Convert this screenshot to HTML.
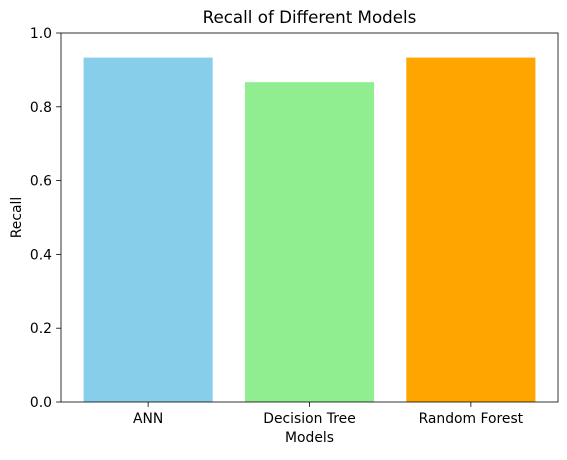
<!DOCTYPE html>
<html><head><meta charset="utf-8"><style>
body{margin:0;background:#fff;font-family:"Liberation Sans","DejaVu Sans",sans-serif}
svg text{font-family:"DejaVu Sans","Liberation Sans",sans-serif}
</style></head><body>
<svg id="chart" width="567" height="455" xmlns="http://www.w3.org/2000/svg">
<text x="309.5" y="23" text-anchor="middle" font-size="16.7">Recall of Different Models</text>
<g id="bars"></g>
<g id="axes"></g>
<text x="309.5" y="442" text-anchor="middle" font-size="13.9">Models</text>
<text transform="translate(21,217.5) rotate(-90)" text-anchor="middle" font-size="13.9">Recall</text>
</svg>
<script>
const categories = ["ANN", "Decision Tree", "Random Forest"];
const recallValues = [0.9333, 0.8667, 0.9333];
const barColors = ["#87ceeb", "#90ee90", "#ffa500"];
const yTicks = [0.0, 0.2, 0.4, 0.6, 0.8, 1.0];

const L=61,R=558,T=33,B=402;
const xmin=-0.54,xmax=2.54;
const xs=v=>L+(v-xmin)/(xmax-xmin)*(R-L);
const ys=v=>B-(v-0)/(1-0)*(B-T);
const NS="http://www.w3.org/2000/svg";
const bars=document.getElementById('bars'), axes=document.getElementById('axes');
function mk(tag,attrs,parent){const e=document.createElementNS(NS,tag);for(const k in attrs)e.setAttribute(k,attrs[k]);parent.appendChild(e);return e;}
categories.forEach((c,i)=>{
  const r=mk('rect',{x:xs(i-0.4),y:ys(recallValues[i]),width:xs(i+0.4)-xs(i-0.4),height:ys(0)-ys(recallValues[i]),fill:barColors[i]},bars);
  
  
  const t=mk('line',{x1:xs(i),x2:xs(i),y1:B,y2:B+4.9,stroke:'#000','stroke-width':0.8},axes);
  
  
  const lb=mk('text',{x:xs(i),y:B+21,'text-anchor':'middle','font-size':13.9},axes);
  lb.textContent=c;
  
  
});
yTicks.forEach(v=>{
  const t=mk('line',{x1:L-4.9,x2:L,y1:ys(v),y2:ys(v),stroke:'#000','stroke-width':0.8},axes);
  
  
  const lb=mk('text',{x:L-9,y:ys(v)+5,'text-anchor':'end','font-size':13.9},axes);
  lb.textContent=v.toFixed(1);
  
  
});
const frame=mk('rect',{x:L,y:T,width:R-L,height:B-T,fill:'none',stroke:'#000','stroke-width':0.8},axes);


</script>
</body></html>
